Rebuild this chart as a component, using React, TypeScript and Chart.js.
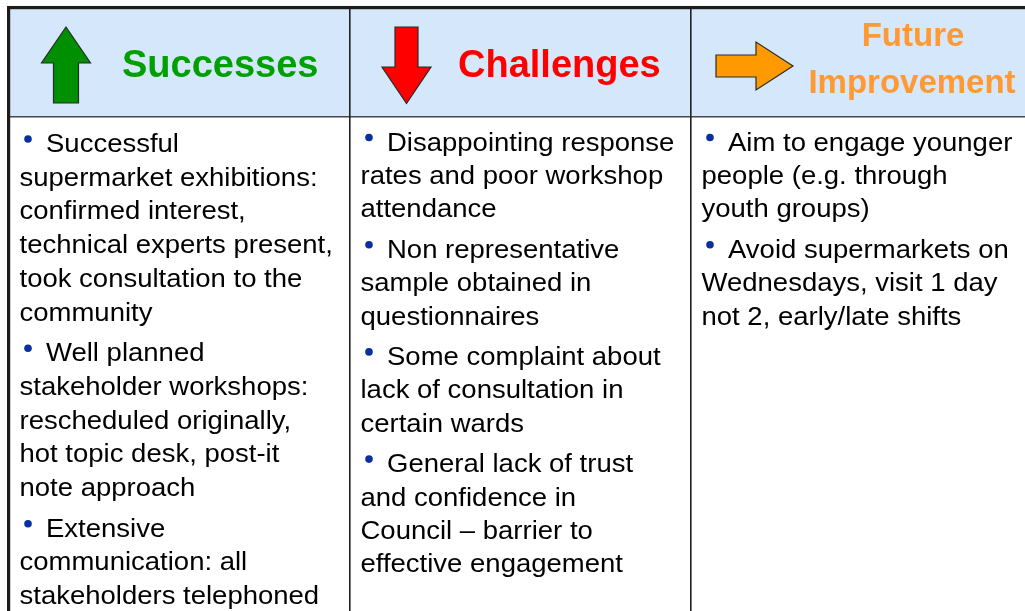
import React, { useEffect, useRef } from "react";
import { Chart, registerables } from "chart.js";

Chart.register(...registerables);

// ---- content ----
const COLUMNS = ["Successes", "Challenges", "Future Improvement"];
const HEADER_LINES = [["Successes"], ["Challenges"], ["Future", "Improvement"]];
const HEADER_COLORS = ["#00a000", "#ff0000", "#ff9933"];
const ARROW_COLORS = ["#008f00", "#ff0000", "#ff9900"];
const ARROW_KINDS = ["up", "down", "right"];

const SUCCESSES = [
  ["Successful", "supermarket exhibitions:", "confirmed interest,", "technical experts present,", "took consultation to the", "community"],
  ["Well planned", "stakeholder workshops:", "rescheduled originally,", "hot topic desk, post-it", "note approach"],
  ["Extensive", "communication: all", "stakeholders telephoned"],
];
const CHALLENGES = [
  ["Disappointing response", "rates and poor workshop", "attendance"],
  ["Non representative", "sample obtained in", "questionnaires"],
  ["Some complaint about", "lack of consultation in", "certain wards"],
  ["General lack of trust", "and confidence in", "Council \u2013 barrier to", "effective engagement"],
];
const IMPROVEMENTS = [
  ["Aim to engage younger", "people (e.g. through", "youth groups)"],
  ["Avoid supermarkets on", "Wednesdays, visit 1 day", "not 2, early/late shifts"],
];
const BODY = [SUCCESSES, CHALLENGES, IMPROVEMENTS];

// ---- layout constants (pixels on the y scale, which maps 1:1) ----
const TABLE_TOP = 6;
const HEADER_BOTTOM = 117;
const TABLE_BOTTOM = 640;
const FIRST_BASELINE = [152, 150.5, 150.5];
const LINE_STEP = [33.7, 33.4, 33.4];
const PARA_GAP = 7;

const FONT = "'Liberation Sans', Arial, Helvetica, sans-serif";

export default function App() {
  const ref = useRef<HTMLCanvasElement | null>(null);

  useEffect(() => {
    const canvas = ref.current!;
    const tablePlugin = {
      id: "tablePlugin",
      afterDatasetsDraw(chart: any) {
        const ctx = chart.ctx as CanvasRenderingContext2D;
        const xs = chart.scales.x;
        const ys = chart.scales.y;
        const n = COLUMNS.length;
        const colW = (xs.getPixelForValue(1) - xs.getPixelForValue(0));
        const lefts = COLUMNS.map((_, i) => xs.getPixelForValue(i) - colW / 2);
        const right = xs.getPixelForValue(n - 1) + colW / 2;
        const yTop = ys.getPixelForValue(TABLE_TOP);
        const yHead = ys.getPixelForValue(HEADER_BOTTOM);
        const yBot = ys.getPixelForValue(TABLE_BOTTOM);

        ctx.save();
        // header bottom line
        ctx.fillStyle = "#4a4a4a";
        ctx.fillRect(lefts[0], yHead - 1, right - lefts[0], 1.5);
        // column separators
        ctx.fillStyle = "#222";
        for (let i = 1; i < n; i++) {
          ctx.fillRect(Math.round(lefts[i]) - 1, yTop, 1.6, yBot - yTop);
        }
        // outer top and left lines
        ctx.fillStyle = "#1c1c1c";
        ctx.fillRect(lefts[0] - 2, yTop, right - lefts[0] + 4, 3.2);
        ctx.fillRect(lefts[0] - 2, yTop, 3.2, yBot - yTop);

        // arrows
        ARROW_KINDS.forEach((kind, i) => {
          const L = lefts[i];
          ctx.beginPath();
          if (kind === "up") {
            const cx = L + 57;
            const tip = ys.getPixelForValue(27), base = ys.getPixelForValue(63), bot = ys.getPixelForValue(103);
            ctx.moveTo(cx, tip);
            ctx.lineTo(cx + 24.5, base);
            ctx.lineTo(cx + 12.5, base);
            ctx.lineTo(cx + 12.5, bot);
            ctx.lineTo(cx - 12.5, bot);
            ctx.lineTo(cx - 12.5, base);
            ctx.lineTo(cx - 24.5, base);
          } else if (kind === "down") {
            const cx = L + 56.5;
            const top = ys.getPixelForValue(27), base = ys.getPixelForValue(67), tip = ys.getPixelForValue(103.5);
            ctx.moveTo(cx - 11.5, top);
            ctx.lineTo(cx + 11.5, top);
            ctx.lineTo(cx + 11.5, base);
            ctx.lineTo(cx + 24.5, base);
            ctx.lineTo(cx, tip);
            ctx.lineTo(cx - 24.5, base);
            ctx.lineTo(cx - 11.5, base);
          } else {
            const x0 = L + 25, xb = L + 65, xt = L + 102;
            const cy = ys.getPixelForValue(66);
            ctx.moveTo(x0, cy - 11);
            ctx.lineTo(xb, cy - 11);
            ctx.lineTo(xb, cy - 24);
            ctx.lineTo(xt, cy);
            ctx.lineTo(xb, cy + 24);
            ctx.lineTo(xb, cy + 11);
            ctx.lineTo(x0, cy + 11);
          }
          ctx.closePath();
          ctx.fillStyle = ARROW_COLORS[i];
          ctx.fill();
          ctx.lineWidth = 1.2;
          ctx.strokeStyle = "#2a2a2a";
          ctx.stroke();
        });

        // header titles
        ctx.textBaseline = "alphabetic";
        HEADER_LINES.forEach((lines, i) => {
          const L = lefts[i];
          ctx.fillStyle = HEADER_COLORS[i];
          if (lines.length === 1) {
            ctx.font = `bold 38px ${FONT}`;
            ctx.textAlign = "left";
            ctx.fillText(lines[0], L + (i === 0 ? 113 : 108), ys.getPixelForValue(77));
          } else {
            ctx.font = `bold 33px ${FONT}`;
            ctx.textAlign = "center";
            ctx.fillText(lines[0], L + 222, ys.getPixelForValue(46));
            ctx.fillText(lines[1], L + 221, ys.getPixelForValue(93));
          }
        });

        // body bullets
        ctx.font = `25px ${FONT}`;
        ctx.textAlign = "left";
        const SX = 1.1;
        BODY.forEach((paras, i) => {
          const L = lefts[i];
          let y = FIRST_BASELINE[i];
          paras.forEach((lines) => {
            lines.forEach((line, k) => {
              const py = ys.getPixelForValue(y);
              if (k === 0) {
                ctx.fillStyle = "#0a2f9e";
                ctx.beginPath();
                ctx.arc(L + 19, py - 13, 3.8, 0, Math.PI * 2);
                ctx.fill();
              }
              ctx.fillStyle = "#000";
              ctx.save();
              ctx.translate(L + (k === 0 ? 37 : 10.5), py);
              ctx.scale(SX, 1);
              ctx.fillText(line, 0, 0);
              ctx.restore();
              y += LINE_STEP[i];
            });
            y += PARA_GAP;
          });
        });
        ctx.restore();
      },
    };

    const chart = new Chart(canvas, {
      type: "bar",
      data: {
        labels: COLUMNS,
        datasets: [
          {
            label: "header",
            data: COLUMNS.map(() => [TABLE_TOP, HEADER_BOTTOM]) as any,
            backgroundColor: "#d5e7fb",
            borderWidth: 0,
            grouped: false,
            barPercentage: 1,
            categoryPercentage: 1,
          } as any,
          {
            label: "body",
            data: COLUMNS.map(() => [HEADER_BOTTOM, TABLE_BOTTOM]) as any,
            backgroundColor: "#ffffff",
            borderWidth: 0,
            grouped: false,
            barPercentage: 1,
            categoryPercentage: 1,
          } as any,
        ],
      },
      options: {
        responsive: false,
        animation: false,
        devicePixelRatio: 1,
        layout: { padding: { left: 9, right: 8, top: 0, bottom: 0 } },
        plugins: { legend: { display: false }, tooltip: { enabled: false }, title: { display: false } },
        events: [],
        scales: {
          x: { type: "category", display: false, offset: true, grid: { display: false } },
          y: { type: "linear", display: false, min: 0, max: 611, reverse: true },
        },
      },
      plugins: [tablePlugin],
    });
    return () => chart.destroy();
  }, []);

  return (
    <div
      style={{
        position: "fixed",
        left: 0,
        top: 0,
        width: 1025,
        height: 611,
        overflow: "hidden",
        background: "#fff",
      }}
    >
      <canvas ref={ref} width={1040} height={611} style={{ display: "block" }} />
    </div>
  );
}
